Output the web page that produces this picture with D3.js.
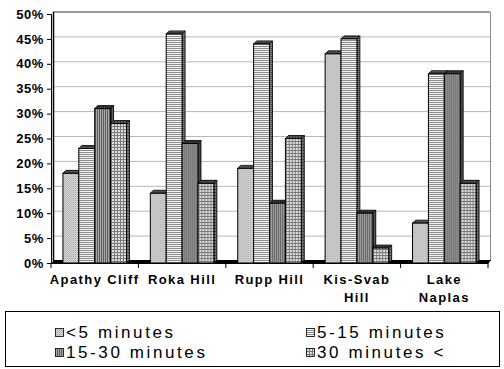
<!DOCTYPE html>
<html>
<head>
<meta charset="utf-8">
<script src="https://cdn.jsdelivr.net/npm/d3@7"></script>
<style>
  body { margin: 0; background: #fff; }
  text { font-family: "Liberation Sans", Arial, sans-serif; fill: #000; }
</style>
</head>
<body>
<svg id="chart" width="504" height="369"></svg>
<script>
// data (percent)
const categories = ["Apathy Cliff", "Roka Hill", "Rupp Hill", "Kis-Svab Hill", "Lake Naplas"]
const categoryLines = [["Apathy Cliff"], ["Roka Hill"], ["Rupp Hill"], ["Kis-Svab", "Hill"], ["Lake", "Naplas"]]
const series = ["<5 minutes", "5-15 minutes", "15-30 minutes", "30 minutes <"]
const under5 = [18, 14, 19, 42, 8]
const from5to15 = [23, 46, 44, 45, 38]
const from15to30 = [31, 24, 12, 10, 38]
const over30 = [28, 16, 25, 3, 16]
const yTicks = [0, 5, 10, 15, 20, 25, 30, 35, 40, 45, 50]

const values = [under5, from5to15, from15to30, over30]
const patternIds = ["pLight", "pHoriz", "pVert", "pGrid"]

const svg = d3.select("#chart")
const depth = 3      // bar depth offset
const wall = 2       // back wall offset

const x0 = d3.scaleBand().domain(categories).range([51, 488]).paddingInner(0).paddingOuter(0)
const x1 = d3.scaleBand().domain(series).range([0, x0.bandwidth()]).paddingInner(0).paddingOuter(0.75)
const y = d3.scaleLinear().domain([0, 50]).range([263, 14])

// fill patterns
const defs = svg.append("defs")
function pattern(id, w, h, bg, marks) {
  const p = defs.append("pattern").attr("id", id).attr("patternUnits", "userSpaceOnUse")
    .attr("width", w).attr("height", h)
  p.append("rect").attr("width", w).attr("height", h).attr("fill", bg)
  marks.forEach(m => p.append("rect").attr("x", m[0]).attr("y", m[1]).attr("width", m[2]).attr("height", m[3]).attr("fill", m[4]))
}
pattern("pLight", 2, 2, "#d6d6d6", [[0, 0, 1, 1, "#ababab"], [1, 1, 1, 1, "#bdbdbd"]])
pattern("pHoriz", 2, 2, "#f4f4f4", [[0, 0, 2, 1, "#8c8c8c"]])
pattern("pVert", 2, 2, "#a9a9a9", [[0, 0, 1, 2, "#5c5c5c"]])
pattern("pGrid", 3, 3, "#dedede", [[0, 0, 3, 1, "#7a7a7a"], [0, 0, 1, 3, "#7a7a7a"]])

// back wall gridlines
const [xl, xr] = x0.range()
svg.append("g").selectAll("line").data(yTicks.slice(0, -1)).join("line")
  .attr("x1", xl + wall).attr("x2", xr + wall)
  .attr("y1", d => y(d) - wall).attr("y2", d => y(d) - wall)
  .attr("stroke", "#b8b8b8").attr("stroke-width", 1)

// wall frame
svg.append("line").attr("x1", xl + wall).attr("x2", xr + wall).attr("y1", y(50) - wall).attr("y2", y(50) - wall)
  .attr("stroke", "#333").attr("stroke-width", 1)
svg.append("line").attr("x1", xr + wall + 0.5).attr("x2", xr + wall + 0.5).attr("y1", y(50) - wall).attr("y2", y(0) - wall)
  .attr("stroke", "#8a8a8a").attr("stroke-width", 1)
svg.append("line").attr("x1", xl + wall + 0.5).attr("x2", xl + wall + 0.5).attr("y1", y(50) - wall).attr("y2", y(0) - wall)
  .attr("stroke", "#000").attr("stroke-width", 1.5)

// floor
svg.append("path")
  .attr("d", `M${xl},${y(0) + 1}L${xl + depth},${y(0) - depth}L${xr + depth},${y(0) - depth}L${xr},${y(0) + 1}Z`)
  .attr("fill", "#000")

// bars
const groups = svg.append("g").selectAll("g").data(categories).join("g")
  .attr("transform", d => `translate(${x0(d)},0)`)

groups.each(function (cat, ci) {
  const g = d3.select(this)
  series.forEach((s, si) => {
    const v = values[si][ci]
    const bx = x1(s), bw = x1.bandwidth()
    const yt = y(v), yb = y(0)
    const fill = `url(#${patternIds[si]})`
    const side = `M${bx + bw},${yt}L${bx + bw + depth},${yt - depth}L${bx + bw + depth},${yb - depth}L${bx + bw},${yb}Z`
    const top = `M${bx},${yt}L${bx + depth},${yt - depth}L${bx + bw + depth},${yt - depth}L${bx + bw},${yt}Z`
    g.append("path").attr("d", side).attr("fill", fill)
    g.append("path").attr("d", side).attr("fill", "rgba(0,0,0,0.45)").attr("stroke", "#000").attr("stroke-width", 0.8)
    g.append("path").attr("d", top).attr("fill", fill)
    g.append("path").attr("d", top).attr("fill", "rgba(0,0,0,0.6)").attr("stroke", "#000").attr("stroke-width", 0.8)
    g.append("rect").attr("x", bx).attr("y", yt).attr("width", bw).attr("height", yb - yt)
      .attr("fill", fill).attr("stroke", "#000").attr("stroke-width", 1)
  })
})

// value axis
const yAxis = svg.append("g").attr("transform", `translate(${xl},0)`)
  .call(d3.axisLeft(y).tickValues(yTicks).tickSize(4).tickPadding(3).tickFormat(d => d + "%"))
yAxis.selectAll("path, line").attr("stroke", "#000")
yAxis.selectAll("text").style("font-size", "13px").style("font-weight", "bold").style("letter-spacing", "0.6px")
  .style("font-family", "'Liberation Sans', Arial, sans-serif")

// category axis
const bounds = categories.map(c => x0(c)).concat([xr])
svg.append("line").attr("x1", xl).attr("x2", xr).attr("y1", y(0) + 0.5).attr("y2", y(0) + 0.5).attr("stroke", "#000")
svg.append("g").selectAll("line").data(bounds).join("line")
  .attr("x1", d => d).attr("x2", d => d).attr("y1", y(0)).attr("y2", y(0) + 5).attr("stroke", "#000")

const labels = svg.append("g").selectAll("text").data(categoryLines).join("text")
  .attr("text-anchor", "middle")
  .style("font-size", "13px").style("font-weight", "bold").style("letter-spacing", "1.4px")
labels.each(function (lines, i) {
  const cx = x0(categories[i]) + x0.bandwidth() / 2
  d3.select(this).selectAll("tspan").data(lines).join("tspan")
    .attr("x", cx).attr("y", (d, j) => 284 + j * 18).text(d => d)
})

// legend
svg.append("rect").attr("x", 5.5).attr("y", 311.5).attr("width", 494).attr("height", 55)
  .attr("fill", "#fff").attr("stroke", "#000")
const legendPos = [[55, 328], [306, 328], [55, 348], [306, 348]]
const legend = svg.append("g").selectAll("g").data(series).join("g")
  .attr("transform", (d, i) => `translate(${legendPos[i][0]},${legendPos[i][1]})`)
legend.append("rect").attr("x", 0.5).attr("y", 0.5).attr("width", 8).attr("height", 8)
  .attr("fill", (d, i) => `url(#${patternIds[i]})`).attr("stroke", "#000").attr("stroke-width", 0.8)
legend.append("text").attr("x", 11).attr("y", 9.5).text(d => d)
  .style("font-size", "17px").style("letter-spacing", "2.6px")
</script>
</body>
</html>
